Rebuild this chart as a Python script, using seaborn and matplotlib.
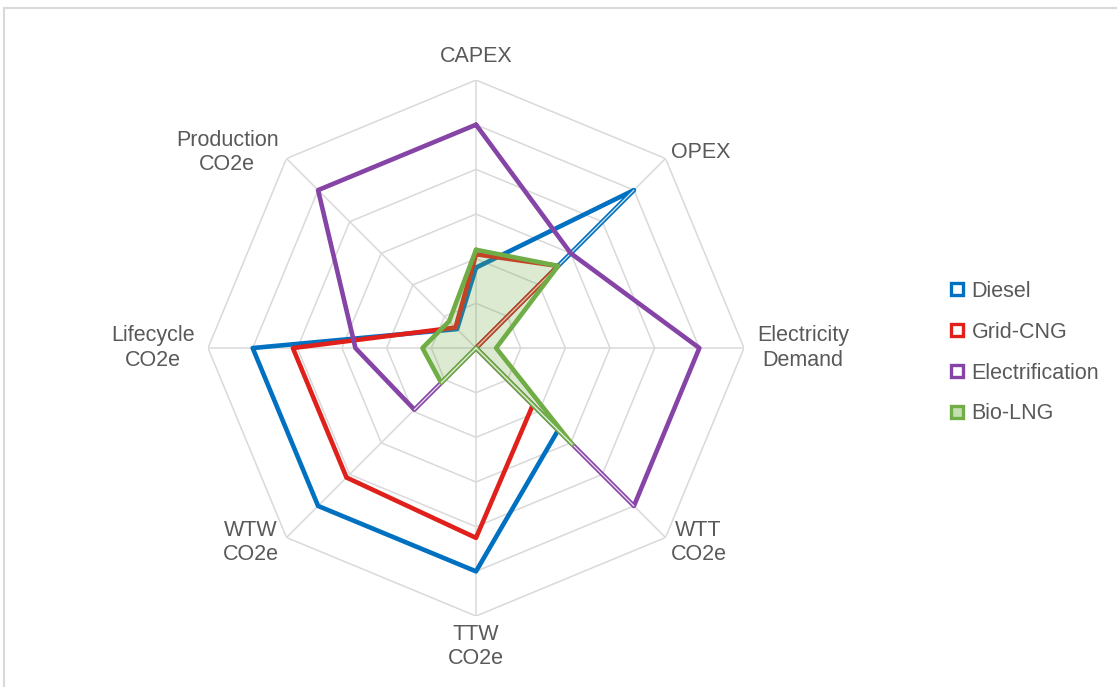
import numpy as np
import pandas as pd
import matplotlib
matplotlib.use('Agg')
import matplotlib.pyplot as plt
import seaborn as sns
from matplotlib.lines import Line2D
from matplotlib.patches import Rectangle

# axis labels, clockwise from the top
categories = ['CAPEX', 'OPEX', 'Electricity\nDemand', 'WTT\nCO2e', 'TTW\nCO2e',
              'WTW\nCO2e', 'Lifecycle\nCO2e', 'Production\nCO2e']

# values (ring units 0-6)
diesel = [1.8, 5.0, 0.0, 2.6, 5.0, 5.0, 5.0, 0.6]
grid_cng = [2.1, 2.6, 0.0, 1.8, 4.25, 4.1, 4.1, 0.65]
electrification = [5.0, 3.0, 5.0, 5.0, 0.0, 1.95, 2.7, 5.0]
bio_lng = [2.2, 2.6, 0.45, 3.05, 0.0, 1.1, 1.2, 0.85]

series_names = ['Diesel', 'Grid-CNG', 'Electrification', 'Bio-LNG']
ring_levels = [1, 2, 3, 4, 5, 6]

colors = {'Diesel': '#0070C0', 'Grid-CNG': '#E0201B',
          'Electrification': '#8544A6', 'Bio-LNG': '#70AD47'}
grid_color = '#D9D9D9'
text_color = '#595959'

sns.set_theme(style='white')
plt.rcParams['font.family'] = ['Liberation Sans', 'DejaVu Sans']

n = len(categories)
angles = np.linspace(0, 2 * np.pi, n, endpoint=False)
closed_angles = np.append(angles, 2 * np.pi)

# long table for seaborn, polygon closed by repeating the first value at 2*pi
rows = []
for name, vals in zip(series_names, [diesel, grid_cng, electrification, bio_lng]):
    for th, v in zip(closed_angles, list(vals) + [vals[0]]):
        rows.append({'series': name, 'theta': th, 'value': v})
df = pd.DataFrame(rows)

fig = plt.figure(figsize=(11.17, 6.87), dpi=100)
ax = fig.add_axes([0.1862, 0.1033, 0.4799, 0.7802], projection='polar')
ax.set_theta_offset(np.pi / 2)
ax.set_theta_direction(-1)

# octagon rings and spokes
for lvl in ring_levels:
    ax.plot(closed_angles, [lvl] * (n + 1), color=grid_color, lw=1.1, zorder=1)
for a in angles:
    ax.plot([a, a], [0, ring_levels[-1]], color=grid_color, lw=1.1, zorder=1)

# series lines
for i, name in enumerate(series_names):
    d = df[df['series'] == name]
    z = 3 + i
    if name == 'Bio-LNG':
        ax.fill(d['theta'], d['value'], color=colors[name], alpha=0.25, lw=0, zorder=z - 0.5)
    sns.lineplot(data=d, x='theta', y='value', sort=False, estimator=None,
                 color=colors[name], lw=3.3, ax=ax, legend=False, zorder=z)
    # radial segments (to/from zero) show a light core in the original
    vals = d['value'].to_numpy()
    th = d['theta'].to_numpy()
    for k in range(n):
        if vals[k] == 0 or vals[k + 1] == 0:
            ax.plot(th[k:k + 2], vals[k:k + 2], color='white', alpha=0.85, lw=0.9, zorder=z + 0.1)

ax.set_ylim(0, ring_levels[-1])
ax.set_xticks([])
ax.set_yticks([])
ax.grid(False)
ax.spines['polar'].set_visible(False)
ax.set_xlabel('')
ax.set_ylabel('')
ax.set_facecolor('none')

# category labels around the outer ring
for a, lab in zip(angles, categories):
    s, c = np.sin(a), np.cos(a)
    if abs(s) < 0.1:
        ha, va, off = 'center', ('bottom' if c > 0 else 'top'), (0, 13 if c > 0 else -8)
    elif abs(c) < 0.1:
        ha, va, off = ('left' if s > 0 else 'right'), 'center', (13 if s > 0 else -13, 0)
    else:
        ha, va, off = ('left' if s > 0 else 'right'), 'center', (5 if s > 0 else -8, 6 if c > 0 else -5)
    ax.annotate(lab, xy=(a, ring_levels[-1]), xytext=off, textcoords='offset pixels',
                ha=ha, va=va, multialignment='center', fontsize=15.5, color=text_color,
                annotation_clip=False)

# legend with hollow square markers
handles = []
for name in series_names:
    face = '#C5DFB4' if name == 'Bio-LNG' else 'white'
    handles.append(Line2D([], [], linestyle='none', marker='s', markersize=9,
                          markerfacecolor=face, markeredgecolor=colors[name], markeredgewidth=2.4))
fig.legend(handles, series_names, loc='upper left', bbox_to_anchor=(948 / 1117, 1 - 281 / 687),
           frameon=False, fontsize=15.5, handlelength=0.8, handletextpad=0.3,
           labelspacing=0.92, borderaxespad=0, borderpad=0, labelcolor=text_color)

# light chart-area border
fig.patches.append(Rectangle((4 / 1117, -0.05), 1.2, 1 - 8 / 687 + 0.05, transform=fig.transFigure,
                             fill=False, edgecolor=grid_color, lw=1.5))

fig.savefig('out.png', dpi=100)
